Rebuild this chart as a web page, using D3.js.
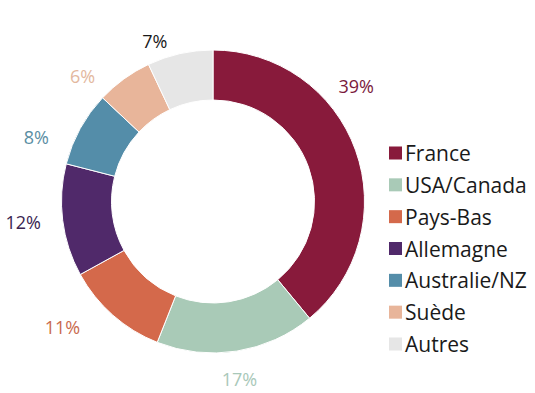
<!DOCTYPE html>
<html>
<head>
<meta charset="utf-8">
<script src="https://cdn.jsdelivr.net/npm/d3@7"></script>
<style>
  html, body { margin: 0; padding: 0; background: #ffffff; }
  svg { display: block; }
  text { font-family: "Open Sans", Lato, sans-serif; }
</style>
</head>
<body>
<svg id="chart" width="535" height="393"></svg>
<script>
// ---- Data ----
const categories = ["France", "USA/Canada", "Pays-Bas", "Allemagne", "Australie/NZ", "Suède", "Autres"];
const values = [39, 17, 11, 12, 8, 6, 7];
const valueLabels = ["39%", "17%", "11%", "12%", "8%", "6%", "7%"];
const colors = ["#881a3b", "#a9cab7", "#d4694b", "#50296a", "#548da9", "#e8b59a", "#e6e6e6"];
const labelColors = ["#7a1a3c", "#a9c8b9", "#c96a4e", "#3a2450", "#5a8ea3", "#e3b89e", "#1a1a1a"];

// ---- Layout (not data) ----
const cx = 213, cy = 201.5, rOuter = 151.5, rInner = 101.5;
// label placement: fraction along each slice and radius from the centre
const labelFrac = [0.364, 0.508, 0.722, 0.523, 0.194, 0.03, 0.21];
const labelRad = [184, 179, 196, 191, 188, 181, 171];

const svg = d3.select("#chart");
const g = svg.append("g").attr("transform", `translate(${cx},${cy})`);

const pie = d3.pie().sort(null).value(d => d.value);
const data = categories.map((c, i) => ({ name: c, value: values[i], i }));
const arcs = pie(data);
const arc = d3.arc().innerRadius(rInner).outerRadius(rOuter);

g.selectAll("path.slice")
  .data(arcs)
  .enter().append("path")
  .attr("class", "slice")
  .attr("d", arc)
  .attr("fill", d => colors[d.data.i])
  .attr("stroke", "#ffffff")
  .attr("stroke-width", 1);

g.selectAll("text.pct")
  .data(arcs)
  .enter().append("text")
  .attr("class", "pct")
  .attr("x", d => {
    const a = d.startAngle + labelFrac[d.data.i] * (d.endAngle - d.startAngle);
    return labelRad[d.data.i] * Math.sin(a);
  })
  .attr("y", d => {
    const a = d.startAngle + labelFrac[d.data.i] * (d.endAngle - d.startAngle);
    return -labelRad[d.data.i] * Math.cos(a);
  })
  .attr("text-anchor", "middle")
  .attr("dominant-baseline", "central")
  .attr("font-size", 18)
  .attr("fill", d => labelColors[d.data.i])
  .text(d => valueLabels[d.data.i]);

// ---- Legend ----
const legendY = d3.scalePoint().domain(categories).range([153, 344]);
const legend = svg.append("g");
const rows = legend.selectAll("g.row")
  .data(categories)
  .enter().append("g")
  .attr("class", "row")
  .attr("transform", d => `translate(389,${legendY(d)})`);

rows.append("rect")
  .attr("x", 0).attr("y", -6.5)
  .attr("width", 13).attr("height", 13)
  .attr("fill", (d, i) => colors[i]);

rows.append("text")
  .attr("x", 16).attr("y", 0)
  .attr("dominant-baseline", "central")
  .attr("font-size", 21)
  .attr("fill", "#1a1a1a")
  .text(d => d);
</script>
</body>
</html>
